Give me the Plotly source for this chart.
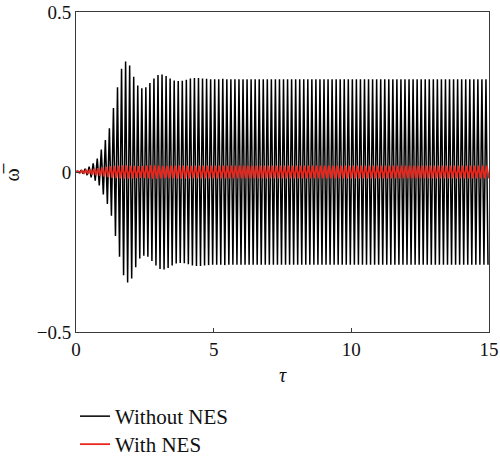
import plotly.graph_objects as go

# ---- data ----
tau_end = 15.0
n_cycles = 102  # oscillation cycles counted over 0..15

# peak amplitude of each cycle, "Without NES" (black)
black_amp = [
    0.002, 0.005, 0.010, 0.017, 0.027, 0.042, 0.070, 0.100, 0.137, 0.200,
    0.265, 0.323, 0.345, 0.333, 0.298, 0.270, 0.262, 0.265, 0.278, 0.292,
    0.303, 0.305, 0.300, 0.292, 0.286, 0.284, 0.285, 0.288, 0.292, 0.294,
    0.294, 0.292, 0.291, 0.290, 0.290, 0.290, 0.291, 0.290, 0.290, 0.290,
    0.290, 0.290, 0.290, 0.290, 0.290, 0.290, 0.290, 0.290, 0.290, 0.290,
    0.290, 0.290, 0.290, 0.290, 0.290, 0.290, 0.290, 0.290, 0.290, 0.290,
    0.290, 0.290, 0.290, 0.290, 0.290, 0.290, 0.290, 0.290, 0.290, 0.290,
    0.290, 0.290, 0.290, 0.290, 0.290, 0.290, 0.290, 0.290, 0.290, 0.290,
    0.290, 0.290, 0.290, 0.290, 0.290, 0.290, 0.290, 0.290, 0.290, 0.290,
    0.290, 0.290, 0.290, 0.290, 0.290, 0.290, 0.290, 0.290, 0.290, 0.290,
    0.290, 0.290,
]

# peak amplitude of each cycle, "With NES" (red)
red_amp = [
    0.003, 0.004, 0.006, 0.008, 0.010, 0.012, 0.014, 0.016, 0.018, 0.019,
    0.020, 0.021, 0.021, 0.020, 0.019, 0.018, 0.019, 0.020, 0.021, 0.021,
    0.020, 0.019, 0.019, 0.020, 0.020, 0.021, 0.020, 0.020, 0.019, 0.020,
    0.020, 0.020, 0.020, 0.020, 0.020, 0.020, 0.020, 0.020, 0.020, 0.020,
    0.020, 0.020, 0.020, 0.020, 0.020, 0.020, 0.020, 0.020, 0.020, 0.020,
    0.020, 0.020, 0.020, 0.020, 0.020, 0.020, 0.020, 0.020, 0.020, 0.020,
    0.020, 0.020, 0.020, 0.020, 0.020, 0.020, 0.020, 0.020, 0.020, 0.020,
    0.020, 0.020, 0.020, 0.020, 0.020, 0.020, 0.020, 0.020, 0.020, 0.020,
    0.020, 0.020, 0.020, 0.020, 0.020, 0.020, 0.020, 0.020, 0.020, 0.020,
    0.020, 0.020, 0.020, 0.020, 0.020, 0.020, 0.020, 0.020, 0.020, 0.020,
    0.020, 0.020,
]

x_ticks = [0, 5, 10, 15]
y_ticks = [-0.5, 0, 0.5]
y_ticklabels = ["\u22120.5", "0", "0.5"]
x_title = "<i>τ</i>"
y_title = "\u03c9\u0305"

period = tau_end / n_cycles


def extrema(amps, phase):
    xs, ys = [0.0], [0.0]
    for k, a in enumerate(amps):
        xs.append((k + 0.25 + phase) * period)
        ys.append(a)
        xs.append((k + 0.75 + phase) * period)
        ys.append(-a)
    return xs, ys


bx, by = extrema(black_amp, 0.0)
rx, ry = extrema(red_amp, 0.2)

SERIF = "Liberation Serif"
TXT = "#111111"

fig = go.Figure()
fig.add_trace(go.Scatter(x=bx, y=by, mode="lines", name="Without NES",
                         line=dict(color="#000000", width=1.5), legend="legend"))
fig.add_trace(go.Scatter(x=rx, y=ry, mode="lines", name="With NES",
                         line=dict(color="#e8281e", width=1.8), legend="legend2"))

axis_common = dict(showline=True, mirror=True, linecolor="#3a3a3a", linewidth=1,
                   ticks="inside", ticklen=4, tickcolor="#3a3a3a",
                   showgrid=False, zeroline=False, automargin=False,
                   tickfont=dict(family=SERIF, size=19, color=TXT))

legend_common = dict(xanchor="left", yanchor="top", xref="paper", yref="container",
                     font=dict(family=SERIF, size=21, color=TXT),
                     bgcolor="rgba(0,0,0,0)", itemwidth=30)

fig.update_layout(
    width=500, height=457,
    margin=dict(l=76, r=11, t=12, b=125),
    paper_bgcolor="white", plot_bgcolor="white",
    xaxis=dict(range=[0, tau_end], tickvals=x_ticks, **axis_common),
    yaxis=dict(range=[-0.5, 0.5], tickvals=y_ticks, ticktext=y_ticklabels, **axis_common),
    showlegend=True,
    legend=dict(x=-0.0024, y=0.1335, **legend_common),
    legend2=dict(x=-0.0024, y=0.0722, **legend_common),
    annotations=[
        dict(text=x_title, xref="paper", yref="paper", x=0.5, y=-0.134,
             xanchor="center", yanchor="middle", showarrow=False,
             font=dict(family=SERIF, size=20, color=TXT)),
        dict(text=y_title, xref="paper", yref="paper", x=-0.156, y=0.5,
             xanchor="center", yanchor="middle", showarrow=False, textangle=-90,
             font=dict(family=SERIF, size=20, color=TXT)),
    ],
)

fig.write_html("out.html", config={"displayModeBar": False},
               post_script="document.body.style.margin='0';document.body.style.overflow='hidden';")
